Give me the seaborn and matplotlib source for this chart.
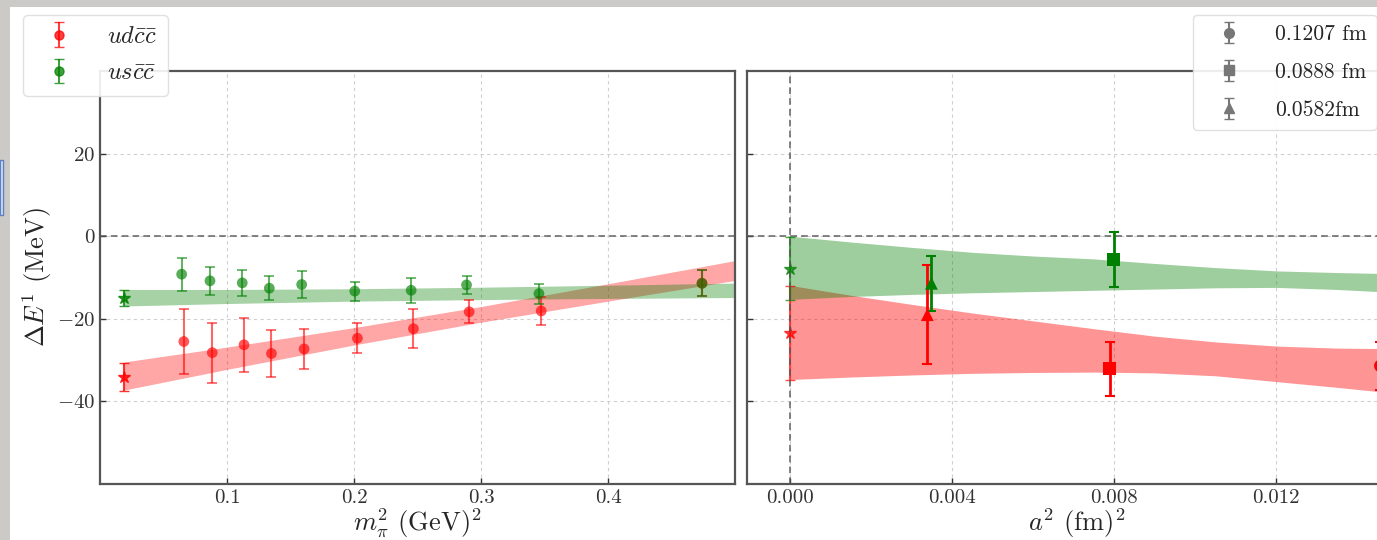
import numpy as np
import pandas as pd
import matplotlib
matplotlib.use("Agg")
import matplotlib.pyplot as plt
from matplotlib.patches import Rectangle
import seaborn as sns

# ---------------- data: left panel (chiral extrapolation) ----------------
mpi2_ud = [0.066, 0.0884, 0.1134, 0.135, 0.1607, 0.2027, 0.2468, 0.2907, 0.3474, 0.474]
dE_ud = [-25.5, -28.2, -26.3, -28.4, -27.3, -24.7, -22.4, -18.3, -18.1, -11.4]
err_ud = [7.9, 7.3, 6.5, 5.8, 4.8, 3.6, 4.7, 2.8, 3.4, 3.2]

mpi2_us = [0.0643, 0.0866, 0.112, 0.1333, 0.1588, 0.2006, 0.245, 0.2886, 0.3456, 0.474]
dE_us = [-9.2, -10.8, -11.3, -12.6, -11.7, -13.3, -13.1, -11.8, -13.9, -11.4]
err_us = [4.0, 3.4, 3.2, 2.9, 3.3, 2.3, 3.1, 2.2, 2.4, 3.2]

phys_mpi2 = [0.019]
phys_ud = [-34.1]
phys_ud_err = [3.3]
phys_us = [-15.0]
phys_us_err = [2.0]

band_x_left = [0.019, 0.1, 0.2, 0.3, 0.4, 0.5]
band_ud_lo_left = [-37.25, -32.25, -26.34, -20.83, -15.72, -10.71]
band_ud_hi_left = [-30.45, -26.85, -22.14, -17.03, -11.52, -5.91]
band_us_lo_left = [-16.9, -16.3, -15.72, -15.35, -15.07, -14.85]
band_us_hi_left = [-12.9, -12.9, -12.72, -12.35, -11.87, -11.35]

# ---------------- data: right panel (continuum extrapolation) ----------------
a2_ud = [0.01457, 0.00789, 0.00339]
a2_us = [0.01467, 0.00799, 0.00349]
markers_a = ["o", "s", "^"]
lat_labels = ["0.1207 fm", "0.0888 fm", "0.0582fm"]
dEa_ud = [-31.4, -32.1, -19.0]
erra_ud = [5.85, 6.6, 12.0]
dEa_us = [-11.4, -5.6, -11.4]
erra_us = [2.6, 6.65, 6.6]

cont_ud = [-23.5]
cont_ud_err = [11.4]
cont_us = [-7.9]
cont_us_err = [7.6]

band_x_right = [0.0, 0.0015, 0.003, 0.0045, 0.006, 0.0075, 0.009, 0.0105, 0.012, 0.0135, 0.0155]
band_ud_hi_right = [-11.9, -14.3, -16.5, -18.6, -20.5, -22.4, -24.2, -25.6, -26.6, -27.1, -27.3]
band_ud_lo_right = [-34.7, -34.1, -33.6, -33.2, -33.0, -32.9, -33.1, -33.8, -35.2, -36.6, -38.6]
band_us_hi_right = [0.0, -1.4, -2.7, -3.9, -4.8, -5.5, -6.6, -7.6, -8.4, -8.8, -9.2]
band_us_lo_right = [-15.3, -14.6, -14.1, -13.7, -13.4, -13.1, -12.8, -12.5, -12.4, -12.9, -13.9]

left_xticks = [0.1, 0.2, 0.3, 0.4]
right_xticks = [0.0, 0.004, 0.008, 0.012]
yticks = [20, 0, -20, -40]

# ---------------- style ----------------
sns.set_theme(style="ticks")
plt.rcParams.update({
    "font.family": "serif",
    "font.serif": ["cmr10"],
    "mathtext.fontset": "cm",
    "axes.formatter.use_mathtext": True,
    "axes.unicode_minus": True,
    "xtick.direction": "in",
    "ytick.direction": "in",
})

W, H = 1377, 540
fig = plt.figure(figsize=(W / 100, H / 100), dpi=100)
fig.patch.set_facecolor("#cbcac6")
fig.patches.append(Rectangle((10 / W, 0), 1 - 10 / W, 1 - 7 / H, transform=fig.transFigure,
                             facecolor="white", edgecolor="none", zorder=-5))
fig.patches.append(Rectangle((0, 1 - 215 / H), 3 / W, 55 / H, transform=fig.transFigure,
                             facecolor="#dfe6f3", edgecolor="#5b7fc0", lw=1.0, zorder=-4))

bottom = (H - 484) / H
height = 413 / H
axL = fig.add_axes([100 / W, bottom, 635 / W, height])
axR = fig.add_axes([747 / W, bottom, 659 / W, height], sharey=axL)

RED = "#ff0000"
GREEN = "#008000"
spine_c = "#555555"

def style_axes(ax):
    for s in ax.spines.values():
        s.set_color(spine_c)
        s.set_linewidth(1.6)
    ax.grid(True, ls=(0, (3, 3)), color="#cfcfcf", lw=0.8)
    ax.set_axisbelow(True)
    ax.tick_params(axis="both", labelsize=15, colors="#333333", length=4, width=1.0,
                   labelcolor="#333333")
    ax.axhline(0, color="#555555", ls=(0, (4, 2.5)), lw=1.2, alpha=0.85, zorder=1)

# ---------------- left panel ----------------
style_axes(axL)
axL.fill_between(band_x_left, band_ud_lo_left, band_ud_hi_left, color=RED, alpha=0.35, lw=0, zorder=2)
axL.fill_between(band_x_left, band_us_lo_left, band_us_hi_left, color=GREEN, alpha=0.35, lw=0, zorder=2)

df_ud = pd.DataFrame({"x": mpi2_ud, "y": dE_ud})
df_us = pd.DataFrame({"x": mpi2_us, "y": dE_us})
axL.errorbar(mpi2_ud, dE_ud, yerr=err_ud, fmt="none", ecolor=RED, alpha=0.6, capsize=3.5, elinewidth=1.5, capthick=1.3, zorder=3)
sns.scatterplot(data=df_ud, x="x", y="y", ax=axL, color=RED, alpha=0.65, s=60, marker="o", edgecolor="none", zorder=4)
axL.errorbar(mpi2_us, dE_us, yerr=err_us, fmt="none", ecolor=GREEN, alpha=0.6, capsize=3.5, elinewidth=1.5, capthick=1.3, zorder=3)
sns.scatterplot(data=df_us, x="x", y="y", ax=axL, color=GREEN, alpha=0.65, s=60, marker="o", edgecolor="none", zorder=4)

axL.errorbar(phys_mpi2, phys_ud, yerr=phys_ud_err, fmt="*", color=RED, ms=9, capsize=3.5, elinewidth=1.5, alpha=0.8, zorder=5)
axL.errorbar(phys_mpi2, phys_us, yerr=phys_us_err, fmt="*", color=GREEN, ms=9, capsize=3.5, elinewidth=1.5, alpha=0.8, zorder=5)

axL.set_xlim(0.0, 0.5)
axL.set_ylim(-60, 40)
axL.set_xticks(left_xticks)
axL.set_yticks(yticks)
axL.set_xticklabels([f"{v:.1f}" for v in left_xticks])
axL.set_xlabel(r"$m_\pi^2$ (GeV)$^2$", fontsize=19, labelpad=0)
axL.set_ylabel(r"$\Delta E^1$ (MeV)", fontsize=19, labelpad=2)

# ---------------- right panel ----------------
style_axes(axR)
axR.axvline(0, color="#555555", ls=(0, (4, 2.5)), lw=1.2, alpha=0.85, zorder=6)
axR.fill_between(band_x_right, band_ud_lo_right, band_ud_hi_right, color=RED, alpha=0.42, lw=0, zorder=2)
axR.fill_between(band_x_right, band_us_lo_right, band_us_hi_right, color=GREEN, alpha=0.38, lw=0, zorder=2)

for i in range(len(a2_ud)):
    axR.errorbar([a2_ud[i]], [dEa_ud[i]], yerr=[erra_ud[i]], fmt="none", ecolor=RED, capsize=3.5, elinewidth=2, capthick=1.5, zorder=3)
    axR.errorbar([a2_us[i]], [dEa_us[i]], yerr=[erra_us[i]], fmt="none", ecolor=GREEN, capsize=3.5, elinewidth=2, capthick=1.5, zorder=3)
df_a = pd.DataFrame({"x": a2_ud + a2_us, "y": dEa_ud + dEa_us,
                     "set": ["ud"] * 3 + ["us"] * 3, "lat": lat_labels + lat_labels})
sns.scatterplot(data=df_a, x="x", y="y", hue="set", style="lat",
                palette={"ud": RED, "us": GREEN},
                markers=dict(zip(lat_labels, markers_a)), s=85, edgecolor="none",
                ax=axR, legend=False, zorder=4)

axR.errorbar([0.0], cont_ud, yerr=cont_ud_err, fmt="*", color=RED, ms=9, capsize=3.5, elinewidth=1.5, alpha=0.7, zorder=5)
axR.errorbar([0.0], cont_us, yerr=cont_us_err, fmt="*", color=GREEN, ms=9, capsize=3.5, elinewidth=1.5, alpha=0.7, zorder=5)

axR.set_xlim(-0.00106, 0.0152)
axR.set_xticks(right_xticks)
axR.set_xticklabels([f"{v:.3f}" for v in right_xticks])
axR.tick_params(axis="y", labelleft=False)
axR.set_xlabel(r"$a^2$ (fm)$^2$", fontsize=19, labelpad=0)
axR.set_ylabel("")

# ---------------- legends ----------------
h_ud = axL.errorbar([np.nan], [np.nan], yerr=[1], fmt="o", color=RED, ms=6.5, capsize=3.5, elinewidth=1.5, alpha=0.75)
h_us = axL.errorbar([np.nan], [np.nan], yerr=[1], fmt="o", color=GREEN, ms=6.5, capsize=3.5, elinewidth=1.5, alpha=0.75)
legL = fig.legend([h_ud, h_us], [r"$ud\bar{c}\bar{c}$", r"$us\bar{c}\bar{c}$"],
                  loc="upper left", bbox_to_anchor=(23 / W, 1 - 15 / H), fontsize=17.5,
                  frameon=True, fancybox=True, handlelength=2.1, handletextpad=0.9,
                  borderpad=0.45, labelspacing=0.6, borderaxespad=0)
legL.get_frame().set_edgecolor("#dddddd")
legL.get_frame().set_alpha(0.9)

h_lat = [axR.errorbar([np.nan], [np.nan], yerr=[1], fmt=m, color="#777777", ms=7, capsize=3.5, elinewidth=1.5)
         for m in markers_a]
legR = fig.legend(h_lat, lat_labels, loc="upper left", bbox_to_anchor=(1193 / W, 1 - 15 / H),
                  fontsize=15.5, frameon=True, fancybox=True, handlelength=2.45, handletextpad=0.92,
                  borderpad=0.45, labelspacing=0.85, borderaxespad=0)
legR.get_frame().set_edgecolor("#dddddd")
legR.get_frame().set_alpha(0.9)

fig.savefig("out.png", dpi=100, facecolor=fig.get_facecolor())
